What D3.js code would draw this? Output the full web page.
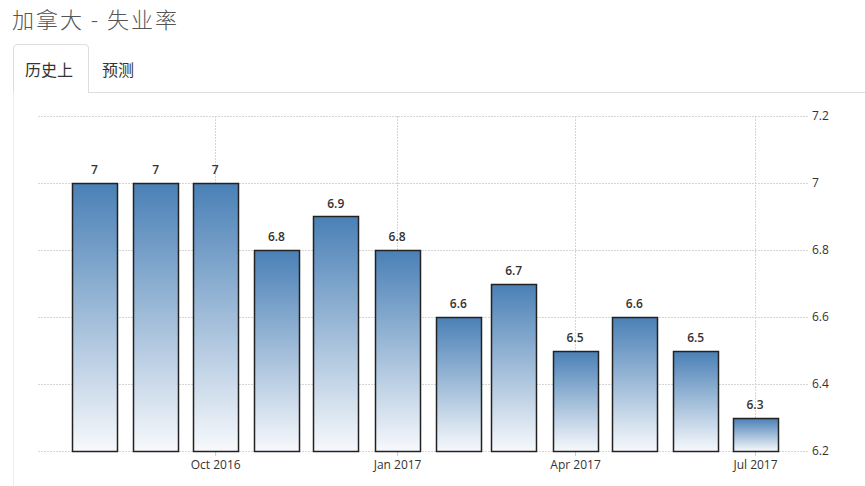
<!DOCTYPE html>
<html><head><meta charset="utf-8">
<script src="https://cdn.jsdelivr.net/npm/d3@7"></script>
<style>
body{margin:0;background:#fff;font-family:"Open Sans","Noto Sans CJK SC",sans-serif;}
</style></head>
<body>
<svg id="c" width="865" height="486"></svg>
<script>
const months = ["2016-08","2016-09","2016-10","2016-11","2016-12","2017-01","2017-02","2017-03","2017-04","2017-05","2017-06","2017-07"];
const values = [7, 7, 7, 6.8, 6.9, 6.8, 6.6, 6.7, 6.5, 6.6, 6.5, 6.3];
const yTicks = [6.2, 6.4, 6.6, 6.8, 7, 7.2];
const xTickMonths = ["2016-10","2017-01","2017-04","2017-07"];
const title = "加拿大 - 失业率";
const tabs = ["历史上", "预测"];

const parse = d3.timeParse("%Y-%m");
const fmt = d3.timeFormat("%b %Y");
const svg = d3.select("#c");

// header
svg.append("text").attr("x", 12).attr("y", 28).attr("font-size", 22).attr("fill", "#555")
  .attr("font-family", "'Noto Sans CJK SC',sans-serif").attr("font-weight", 300)
  .attr("letter-spacing", 2).text(title);
svg.append("line").attr("x1", 13).attr("x2", 865).attr("y1", 92.5).attr("y2", 92.5).attr("stroke", "#ddd");
svg.append("path").attr("d", "M13.5,93 V48 Q13.5,44.5 17,44.5 H85 Q88.5,44.5 88.5,48 V93")
  .attr("fill", "#fff").attr("stroke", "#ddd");
svg.append("line").attr("x1", 13.5).attr("x2", 13.5).attr("y1", 93).attr("y2", 486).attr("stroke", "#eee");
svg.append("text").attr("x", 25).attr("y", 76).attr("font-size", 16).attr("fill", "#333")
  .attr("font-family", "'Noto Sans CJK SC',sans-serif").text(tabs[0]);
svg.append("text").attr("x", 102).attr("y", 76).attr("font-size", 16).attr("fill", "#333")
  .attr("font-family", "'Noto Sans CJK SC',sans-serif").text(tabs[1]);

// scales
const x = d3.scaleTime().domain([parse(months[0]), parse(months[months.length-1])]).range([94.5, 755]);
const y = d3.scaleLinear().domain([6.2, 7.2]).range([451, 116]);
const left = 38, right = 808;
const barW = 45;

// gradient
const defs = svg.append("defs");
const g = defs.append("linearGradient").attr("id", "bg").attr("x1", 0).attr("y1", 0).attr("x2", 0).attr("y2", 1);
g.append("stop").attr("offset", "0%").attr("stop-color", "#4a80b6");
g.append("stop").attr("offset", "100%").attr("stop-color", "#f7f9fc");

// grid
svg.append("g").selectAll("line").data(yTicks).join("line")
  .attr("x1", left).attr("x2", right)
  .attr("y1", d => Math.round(y(d)) + 0.5).attr("y2", d => Math.round(y(d)) + 0.5)
  .attr("stroke", "#d6d6d6").attr("stroke-dasharray", "2,1");
svg.append("g").selectAll("line").data(xTickMonths).join("line")
  .attr("x1", d => Math.round(x(parse(d))) + 0.5).attr("x2", d => Math.round(x(parse(d))) + 0.5)
  .attr("y1", 116).attr("y2", 451)
  .attr("stroke", "#d6d6d6").attr("stroke-dasharray", "2,1");

// y axis labels
svg.append("g").selectAll("text").data(yTicks).join("text")
  .attr("x", 812).attr("y", d => y(d) + 4).attr("font-size", 12).attr("fill", "#333")
  .text(d => d3.format("~g")(d));

// x axis
const xa = d3.axisBottom(x).tickValues(xTickMonths.map(parse)).tickFormat(fmt).tickSize(5).tickPadding(4);
const xg = svg.append("g").attr("transform", "translate(0,451)").call(xa);
xg.select(".domain").remove();
xg.selectAll(".tick line").attr("stroke", "#ccc");
xg.selectAll(".tick text").attr("font-size", 12).attr("fill", "#333").attr("font-family", "'Open Sans',sans-serif");

// bars
const data = months.map((m, i) => ({d: parse(m), v: values[i]}));
svg.append("g").selectAll("rect").data(data).join("rect")
  .attr("x", d => Math.round(x(d.d) - barW/2) + 0.5)
  .attr("y", d => Math.round(y(d.v)) + 0.5)
  .attr("width", barW)
  .attr("height", d => y(6.2) - Math.round(y(d.v)))
  .attr("fill", "url(#bg)").attr("stroke", "#222").attr("stroke-width", 1.5);

svg.append("g").selectAll("text").data(data).join("text")
  .attr("x", d => x(d.d)).attr("y", d => y(d.v) - 9)
  .attr("text-anchor", "middle").attr("font-size", 12).attr("font-weight", 600).attr("fill", "#333")
  .text(d => d3.format("~g")(d.v));
</script>
</body></html>
